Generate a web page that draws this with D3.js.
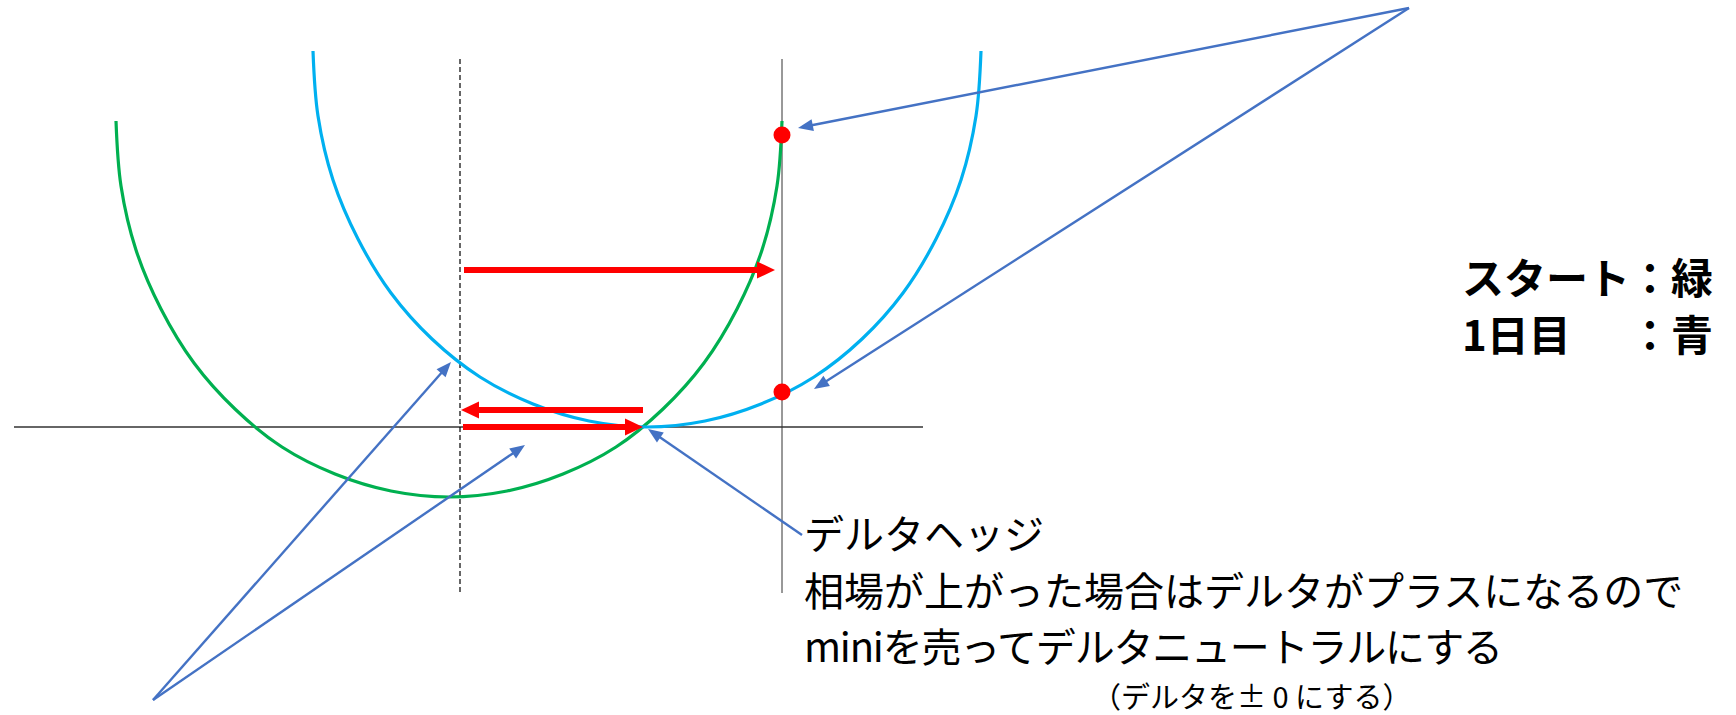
<!DOCTYPE html>
<html>
  <head>
    <meta charset="UTF-8">
    <title>デルタヘッジ</title>
    <style>
      body { margin: 0; background: #fff; }
      svg { display: block; }
    </style>
  </head>
  <body>
    <svg></svg>
    <script src="https://d3js.org/d3.v7.min.js"></script>
    <script>

// all values are [price, P&L] (dashed line = price 0, flat axis = P&L 0)

// start (green) curve
var greenCurve = [
  [-3.44, 3.06], [-3.39, 2.41], [-3.24, 1.77], [-2.99, 1.18], [-2.66, 0.64],
  [-2.25, 0.18], [-1.78, -0.20], [-1.25, -0.47], [-0.69, -0.64], [-0.11, -0.70],
  [0.47, -0.64], [1.03, -0.47], [1.56, -0.20], [2.03, 0.18], [2.44, 0.64],
  [2.77, 1.18], [3.02, 1.77], [3.17, 2.41], [3.22, 3.06]
];

// day 1 (blue) curve
var blueCurve = [
  [-1.47, 3.76], [-1.42, 3.11], [-1.27, 2.47], [-1.02, 1.88], [-0.69, 1.34],
  [-0.28, 0.88], [0.20, 0.50], [0.73, 0.23], [1.29, 0.06], [1.87, 0.00],
  [2.45, 0.06], [3.01, 0.23], [3.54, 0.50], [4.02, 0.88], [4.43, 1.34],
  [4.76, 1.88], [5.01, 2.47], [5.16, 3.11], [5.21, 3.76]
];

var axisSpan = [-4.46, 4.63];     // horizontal zero line
var dashedPrice = 0;              // starting price
var movedPrice = 3.22;            // price after the move
var guideSpan = [3.68, -1.66];    // vertical extent of both guide lines

var redDots = [[3.22, 2.92], [3.22, 0.35]];

// thick red arrows [from, to]
var hedgeArrows = [
  [[0.04, 1.57], [3.15, 1.57]],
  [[1.83, 0.17], [0.01, 0.17]],
  [[0.03, 0.00], [1.83, 0.00]]
];

// thin pointer arrows [from, to]
var pointerArrows = [
  [[9.49, 4.19], [3.38, 2.99]],
  [[9.49, 4.19], [3.54, 0.38]],
  [[3.42, -1.08], [1.88, -0.02]],
  [[-3.07, -2.73], [-0.09, 0.65]],
  [[-3.07, -2.73], [0.65, -0.18]]
];

var noteLines = [
  "デルタヘッジ",
  "相場が上がった場合はデルタがプラスになるので",
  "miniを売ってデルタニュートラルにする"
];
var noteSub = "（デルタを± 0 にする）";

var legendRows = [
  ["スタート", "：緑"],
  ["1日目", "：青"]
];

var width = 1736,
  height = 715;

var svg = d3.select("svg")
  .attr("width", width)
  .attr("height", height);

var x = d3.scaleLinear().domain([-4.6, 12.76]).range([0, width]);
var y = d3.scaleLinear().domain([4.27, -2.88]).range([0, height]);

// draws a straight arrow with a triangular head, head sizes in pixels
function arrow(g, from, to, color, stroke, headLen, headWid) {
  var x0 = x(from[0]), y0 = y(from[1]),
    x1 = x(to[0]), y1 = y(to[1]);
  var len = Math.hypot(x1 - x0, y1 - y0),
    ux = (x1 - x0) / len,
    uy = (y1 - y0) / len;
  var bx = x1 - ux * headLen,
    by = y1 - uy * headLen;
  g.append("line")
    .attr("x1", x0).attr("y1", y0)
    .attr("x2", bx + ux).attr("y2", by + uy)
    .attr("stroke", color)
    .attr("stroke-width", stroke);
  g.append("path")
    .attr("d", "M" + x1 + "," + y1 +
      "L" + (bx - uy * headWid / 2) + "," + (by + ux * headWid / 2) +
      "L" + (bx + uy * headWid / 2) + "," + (by - ux * headWid / 2) + "Z")
    .attr("fill", color);
}

// zero line and guide lines
svg.append("line")
  .attr("x1", x(axisSpan[0])).attr("x2", x(axisSpan[1]))
  .attr("y1", y(0)).attr("y2", y(0))
  .attr("stroke", "#333")
  .attr("stroke-width", 1.5);

svg.append("line")
  .attr("x1", x(dashedPrice)).attr("x2", x(dashedPrice))
  .attr("y1", y(guideSpan[0])).attr("y2", y(guideSpan[1]))
  .attr("stroke", "#000")
  .attr("stroke-width", 1.2)
  .attr("stroke-dasharray", "5,3");

svg.append("line")
  .attr("x1", x(movedPrice)).attr("x2", x(movedPrice))
  .attr("y1", y(guideSpan[0])).attr("y2", y(guideSpan[1]))
  .attr("stroke", "#333")
  .attr("stroke-width", 1);

// curves
var line = d3.line()
  .x(function(d) { return x(d[0]); })
  .y(function(d) { return y(d[1]); })
  .curve(d3.curveCatmullRom.alpha(0.5));

svg.append("path")
  .datum(greenCurve)
  .attr("d", line)
  .attr("fill", "none")
  .attr("stroke", "#00B050")
  .attr("stroke-width", 3.2);

svg.append("path")
  .datum(blueCurve)
  .attr("d", line)
  .attr("fill", "none")
  .attr("stroke", "#00B0F0")
  .attr("stroke-width", 3.2);

// red hedge arrows
var red = svg.append("g");
hedgeArrows.forEach(function(a) {
  arrow(red, a[0], a[1], "#FF0000", 6, 18, 17);
});

svg.selectAll(".dot")
  .data(redDots)
  .enter().append("circle")
    .attr("class", "dot")
    .attr("cx", function(d) { return x(d[0]); })
    .attr("cy", function(d) { return y(d[1]); })
    .attr("r", 8.5)
    .attr("fill", "#FF0000");

// pointer arrows
var blue = svg.append("g");
pointerArrows.forEach(function(a) {
  arrow(blue, a[0], a[1], "#4472C4", 2.4, 15, 12);
});

// note text
var font = "'Noto Sans CJK JP', 'Noto Sans', sans-serif";

svg.selectAll(".note")
  .data(noteLines)
  .enter().append("text")
    .attr("class", "note")
    .attr("x", 804)
    .attr("y", function(d, i) { return 549 + i * 56.5; })
    .attr("font-family", font)
    .attr("font-size", 40)
    .attr("letter-spacing", function(d, i) { return i == 2 ? -1.2 : 0; })
    .attr("fill", "#000")
    .text(function(d) { return d; });

svg.append("text")
  .attr("x", 1092)
  .attr("y", 708)
  .attr("font-family", font)
  .attr("font-size", 29)
  .attr("fill", "#000")
  .text(noteSub);

// legend (bold, right side)
legendRows.forEach(function(r, i) {
  var ty = 294 + i * 57;
  svg.append("text")
    .attr("x", 1462)
    .attr("y", ty)
    .attr("font-family", font)
    .attr("font-weight", "bold")
    .attr("font-size", 42)
    .text(r[0]);
  svg.append("text")
    .attr("x", 1713)
    .attr("y", ty)
    .attr("text-anchor", "end")
    .attr("font-family", font)
    .attr("font-weight", "bold")
    .attr("font-size", 42)
    .text(r[1]);
});

    </script>
  </body>
</html>
